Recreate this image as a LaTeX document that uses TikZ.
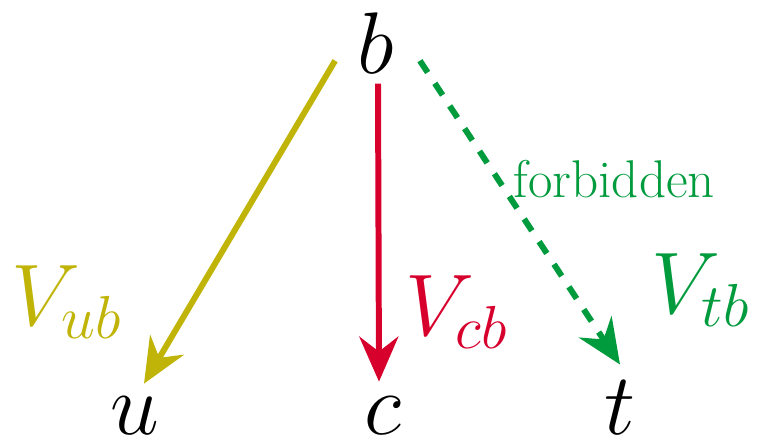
\documentclass[tikz,border=0pt]{standalone}
\usepackage{amsmath}
\usepackage{xcolor}
\usetikzlibrary{arrows.meta}
\definecolor{ckmyellow}{RGB}{192,180,8}
\definecolor{ckmred}{RGB}{215,0,45}
\definecolor{ckmgreen}{RGB}{0,155,60}

\begin{document}
\begin{tikzpicture}[
  x=0.01cm, y=-0.01cm,
  quark/.style={inner sep=0pt, anchor=base, font=\fontsize{26.2}{30}\selectfont},
  elem/.style={inner sep=0pt, anchor=base west, font=\fontsize{26.4}{30}\selectfont},
  trans/.style={line width=1.7pt, -{Stealth[length=4.5mm, width=3.9mm, inset=1.5mm]}}
]
\useasboundingbox (0,0) rectangle (761,441);
\node[quark] (b) at (376,73) {$b$};
\node[quark] (u) at (135,434) {$u$};
\node[quark] (c) at (383,434) {$c$};
\node[quark] (t) at (620,434) {$t$};
\draw[trans, ckmyellow] ([shift={(-22,-13)}]b.south west) -- ([shift={(9,-12)}]u.north);
\draw[trans, ckmred] ([shift={(2,10)}]b.south) -- ([shift={(-4,-14)}]c.north);
\draw[trans, ckmgreen, dash pattern=on 4pt off 3.7pt] ([shift={(25,-13)}]b.south east) -- ([shift={(0,-15)}]t.north);
\node[elem, text=ckmyellow] (vub) at (11,325) {$V_{ub}$};
\node[elem, text=ckmred] (vcb) at (405,335) {$V_{cb}$};
\node[elem, text=ckmgreen] (vtb) at (651,313) {$V_{tb}$};
\node[inner sep=0pt, anchor=base west, font=\fontsize{15.1}{18}\selectfont, text=ckmgreen] (forb) at (513,197) {forbidden};
\end{tikzpicture}
\end{document}
